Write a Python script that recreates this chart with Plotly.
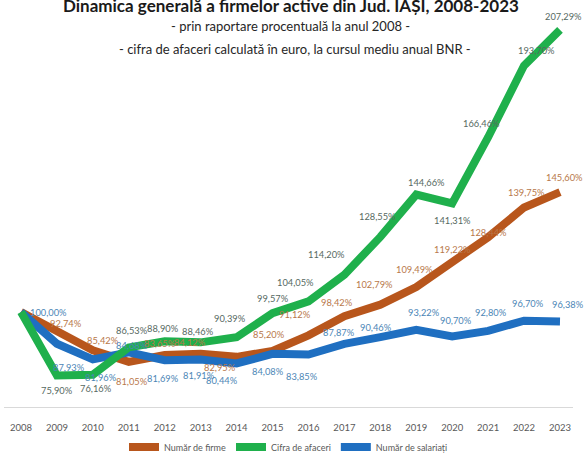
import plotly.graph_objects as go

years = list(range(2008, 2024))
numar_firme = [100.00, 92.74, 85.42, 81.05, 83.65, 84.12, 82.95, 85.20, 91.12,
               98.42, 102.79, 109.49, 119.22, 128.44, 139.75, 145.60]
cifra_afaceri = [100.00, 75.90, 76.16, 86.53, 88.90, 88.46, 90.39, 99.57, 104.05,
                 114.20, 128.55, 144.66, 141.31, 166.46, 193.70, 207.29]
numar_salariati = [100.00, 87.93, 81.96, 84.68, 81.69, 81.91, 80.44, 84.08, 83.85,
                   87.87, 90.46, 93.22, 90.70, 92.80, 96.70, 96.38]
year_labels = [str(y) for y in years]

title = "Dinamica generală a firmelor active din Jud. IAȘI, 2008-2023"
subtitle1 = "- prin raportare procentuală la anul 2008 -"
subtitle2 = "- cifra de afaceri calculată în euro, la cursul mediu anual BNR -"

FONT = "Lato, Roboto, sans-serif"

# label pixel offsets (style only)
green_off = [None, (0, -15), (3, -14), (3, 17), (-2, 13), (-3, 11), (-7, 19), (0, 15),
             (-13, 19), (-18, 20), (-3, 20), (10, 12), (0, -17), (-7, 14), (12, 15), (4, 13)]
brown_off = [None, (9, 8), (10, 10), (3, -20), (-5, 12), (-11, 11), (-17, -11), (-4, 16),
             (-13, 21), (-7, 14), (-6, 20), (-2, 18), (0, 12), (0, 5), (2, 15), (5, 15)]
blue_off = [(27, 0), (12, -24), (8, -18), (3, 7), (-2, -18), (-2, -16), (-15, -17), (-5, -18),
            (-6, -22), (-5, 11), (-4, 10), (8, 17), (4, 16), (3, 18), (4, 17), (8, 17)]

series = [
    ("Număr de firme", numar_firme, "#B8561C", "#B8784A", brown_off),
    ("Număr de salariați", numar_salariati, "#1F6FC1", "#4C86B6", blue_off),
    ("Cifra de afaceri", cifra_afaceri, "#1FB04C", "#56695F", green_off),
]
legend_rank = {"Număr de firme": 1, "Cifra de afaceri": 2, "Număr de salariați": 3}

fig = go.Figure()
annotations = []
for name, vals, lc, tc, offs in series:
    fig.add_trace(go.Scatter(
        x=years, y=vals, mode="lines", name=name,
        line=dict(color=lc, width=8),
        legendrank=legend_rank[name], hoverinfo="skip",
    ))
    for x, v, off in zip(years, vals, offs):
        if off is None:
            continue
        annotations.append(dict(
            x=x, y=v, xref="x", yref="y",
            text=f"{v:.2f}".replace(".", ",") + "%",
            showarrow=False, xshift=off[0], yshift=off[1],
            font=dict(family=FONT, size=9.3, color=tc),
        ))

H = 407.0
def py(px):
    return 1 - px / H

annotations += [
    dict(x=0.5, y=py(5), xref="paper", yref="paper", text=title, showarrow=False,
         xanchor="center", yanchor="middle", xshift=2,
         font=dict(family=FONT, size=17, color="#1A1A1A", weight="bold")),
    dict(x=0.5, y=py(26), xref="paper", yref="paper", text=subtitle1, showarrow=False,
         xanchor="center", yanchor="middle", xshift=2,
         font=dict(family=FONT, size=13, color="#262626")),
    dict(x=0.5, y=py(49), xref="paper", yref="paper", text=subtitle2, showarrow=False,
         xanchor="center", yanchor="middle", xshift=6,
         font=dict(family=FONT, size=13, color="#262626")),
]

fig.update_layout(
    width=584, height=456,
    margin=dict(l=4, r=11, t=0, b=49, autoexpand=False),
    paper_bgcolor="white", plot_bgcolor="white",
    showlegend=True,
    legend=dict(orientation="h", x=0.5, xanchor="center", y=py(447), yanchor="middle",
                font=dict(family=FONT, size=9, color="#595959"),
                itemwidth=30, traceorder="normal", bgcolor="rgba(0,0,0,0)"),
    annotations=annotations,
    xaxis=dict(range=[2007.527, 2023.362], tickvals=years, ticktext=year_labels,
               showgrid=False, zeroline=False, showline=True, linecolor="#D9D9D9",
               linewidth=1, ticks="", ticklabelstandoff=12, automargin=False,
               tickfont=dict(family=FONT, size=9.5, color="#595959")),
    yaxis=dict(range=[63.88, 218.63], visible=False, showgrid=False, zeroline=False,
               automargin=False),
)

fig.write_html(
    "out.html",
    config={"displayModeBar": False},
    post_script="document.body.style.margin='0';document.body.style.overflow='hidden';",
)
